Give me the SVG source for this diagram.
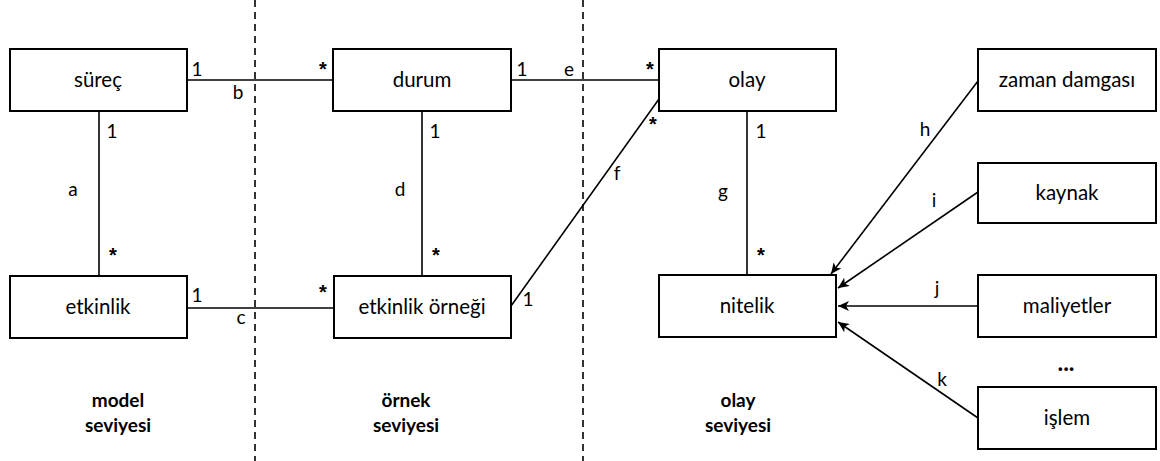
<svg xmlns="http://www.w3.org/2000/svg" width="1160" height="461" viewBox="0 0 1160 461">
<style>
.box{fill:#fff;stroke:#000;stroke-width:2}
.t{font-family:Lato,"Open Sans","Liberation Sans",sans-serif;font-size:20.5px;fill:#000;text-anchor:middle}
.l{font-family:Lato,"Open Sans","Liberation Sans",sans-serif;font-size:19px;fill:#000;text-anchor:middle}
.s{font-family:"Liberation Sans",Arial,sans-serif;font-size:20px;font-weight:bold;fill:#000;text-anchor:middle}
.b{font-family:Lato,"Open Sans","Liberation Sans",sans-serif;font-size:19px;font-weight:bold;fill:#000;text-anchor:middle}
.c{stroke:#000;stroke-width:1.6;fill:none}
.d{stroke:#000;stroke-width:1.6;stroke-dasharray:7,5;fill:none}
</style>
<defs>
<marker id="ar" markerWidth="12" markerHeight="10" refX="11" refY="5" orient="auto" markerUnits="userSpaceOnUse">
<path d="M0,0 L11,5 L0,10 L3,5 Z" fill="#000"/>
</marker>
</defs>
<g id="dividers">
<line class="d" x1="255" y1="0" x2="255" y2="461"/>
<line class="d" x1="583" y1="0" x2="583" y2="461"/>
</g>
<g id="connectors">
<line class="c" x1="187" y1="80" x2="333" y2="80"/>
<line class="c" x1="99" y1="111" x2="99" y2="276"/>
<line class="c" x1="187" y1="308" x2="334" y2="308"/>
<line class="c" x1="422" y1="111" x2="422" y2="276"/>
<line class="c" x1="511" y1="80" x2="659" y2="80"/>
<line class="c" x1="659" y1="99" x2="511" y2="306"/>
<line class="c" x1="747" y1="111" x2="747" y2="275"/>
<line class="c" x1="978" y1="81" x2="831" y2="274" marker-end="url(#ar)"/>
<line class="c" x1="978" y1="192" x2="838" y2="288" marker-end="url(#ar)"/>
<line class="c" x1="978" y1="306" x2="838" y2="306" marker-end="url(#ar)"/>
<line class="c" x1="978" y1="418" x2="838" y2="322" marker-end="url(#ar)"/>
<text class="l" x="197" y="76">1</text>
<text class="l" x="238" y="99">b</text>
<text class="s" x="323" y="76">*</text>
<text class="l" x="112" y="138">1</text>
<text class="l" x="73" y="196">a</text>
<text class="s" x="113" y="262">*</text>
<text class="l" x="197" y="302">1</text>
<text class="l" x="241" y="324">c</text>
<text class="s" x="323" y="299">*</text>
<text class="l" x="435" y="138">1</text>
<text class="l" x="400" y="196">d</text>
<text class="s" x="436" y="262">*</text>
<text class="l" x="522" y="76">1</text>
<text class="l" x="569" y="76">e</text>
<text class="s" x="650" y="76">*</text>
<text class="s" x="653" y="131">*</text>
<text class="l" x="617" y="180">f</text>
<text class="l" x="528" y="306">1</text>
<text class="l" x="761" y="138">1</text>
<text class="l" x="723" y="198">g</text>
<text class="s" x="761" y="262">*</text>
<text class="l" x="925" y="136">h</text>
<text class="l" x="934" y="207">i</text>
<text class="l" x="937" y="295">j</text>
<text class="l" x="942" y="386">k</text>
</g>
<g id="surec"><rect class="box" x="10" y="49" width="177" height="62"/><text class="t" x="98" y="87">süreç</text></g>
<g id="durum"><rect class="box" x="333" y="49" width="178" height="62"/><text class="t" x="422" y="87">durum</text></g>
<g id="olay"><rect class="box" x="659" y="49" width="177" height="62"/><text class="t" x="747" y="87">olay</text></g>
<g id="zaman"><rect class="box" x="978" y="49" width="178" height="62"/><text class="t" x="1067" y="87">zaman damgası</text></g>
<g id="kaynak"><rect class="box" x="978" y="163" width="178" height="60"/><text class="t" x="1067" y="200">kaynak</text></g>
<g id="etkinlik"><rect class="box" x="10" y="276" width="177" height="62"/><text class="t" x="98" y="314">etkinlik</text></g>
<g id="etkinlikornegi"><rect class="box" x="334" y="276" width="177" height="62"/><text class="t" x="422" y="314">etkinlik örneği</text></g>
<g id="nitelik"><rect class="box" x="659" y="275" width="177" height="62"/><text class="t" x="747" y="313">nitelik</text></g>
<g id="maliyetler"><rect class="box" x="978" y="275" width="178" height="62"/><text class="t" x="1067" y="313">maliyetler</text></g>
<g id="islem"><rect class="box" x="978" y="387" width="178" height="62"/><text class="t" x="1067" y="425">işlem</text></g>
<g id="ellipsis"><text class="b" x="1066" y="371" style="font-size:24px">...</text></g>
<g id="levels">
<text class="b" x="118" y="407">model</text>
<text class="b" x="118" y="432">seviyesi</text>
<text class="b" x="406" y="407">örnek</text>
<text class="b" x="406" y="432">seviyesi</text>
<text class="b" x="738" y="407">olay</text>
<text class="b" x="738" y="432">seviyesi</text>
</g>
</svg>
